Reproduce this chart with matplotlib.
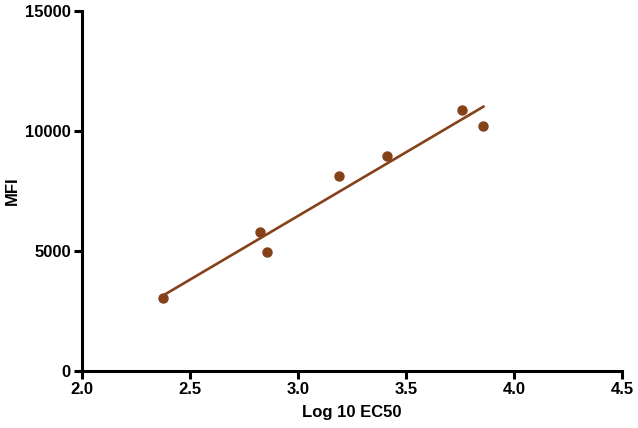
import matplotlib
matplotlib.use('Agg')
import matplotlib.pyplot as plt
import numpy as np

plt.rcParams.update({
    'font.family': 'Liberation Sans',
    'font.weight': 'bold',
    'font.size': 12,
})

# data
log_ec50 = [2.374, 2.824, 2.855, 3.188, 3.410, 3.757, 3.858]
mfi = [3030, 5780, 4950, 8140, 8970, 10875, 10210]

x_ticks = [2.0, 2.5, 3.0, 3.5, 4.0, 4.5]
y_ticks = [0, 5000, 10000, 15000]

color = '#85421A'

fig = plt.figure(figsize=(6.38, 4.28), dpi=100)
ax = fig.add_axes([0.1285, 0.1332, 0.8465, 0.8408])

# linear regression line across data range
x = np.array(log_ec50)
y = np.array(mfi)
slope, intercept = np.polyfit(x, y, 1)
xf = np.array([x.min(), x.max()])
ax.plot(xf, slope * xf + intercept, color=color, lw=1.9, zorder=2)
ax.plot(x, y, 'o', color=color, ms=6.5, zorder=3, clip_on=False)

ax.set_xlim(2.0, 4.5)
ax.set_ylim(0, 15000)
ax.set_xticks(x_ticks)
ax.set_xticklabels([f"{t:.1f}" for t in x_ticks])
ax.set_yticks(y_ticks)
ax.set_xlabel('Log 10 EC50', fontweight='bold', labelpad=6)
ax.set_ylabel('MFI', fontweight='bold', labelpad=4)

for s in ['top', 'right']:
    ax.spines[s].set_visible(False)
for s in ['left', 'bottom']:
    ax.spines[s].set_linewidth(2.2)
ax.tick_params(width=2.2, length=6, direction='out', pad=2, labelsize=12)

fig.savefig('out.png', dpi=100)
